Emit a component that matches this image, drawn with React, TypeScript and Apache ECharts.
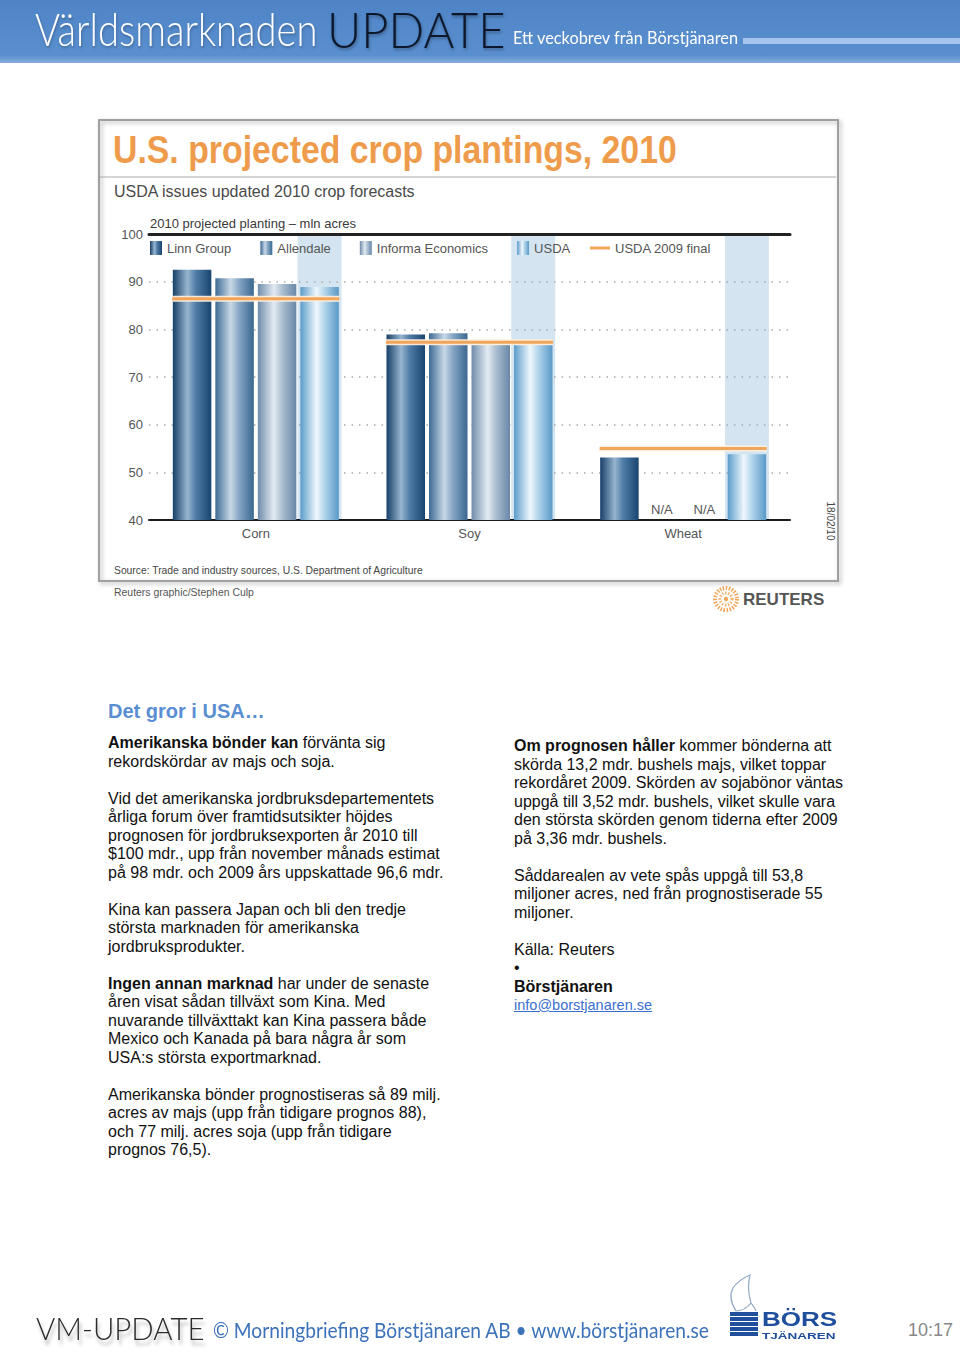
import React, { useEffect, useRef } from "react";
import * as echarts from "echarts";

const FONT = '"Liberation Sans", Arial, Helvetica, sans-serif';

// ---- chart data ----
const categories = ["Corn", "Soy", "Wheat"];
const linnGroup = [92.5, 78.9, 53.1];
const allendale = [90.7, 79.2, null];
const informaEconomics = [89.5, 76.8, null];
const usda = [88.9, 76.8, 53.8];
const usda2009Final = [86.4, 77.3, 55.0];
const Y_MIN = 40;
const Y_MAX = 100;
const Y_INTERVAL = 10;

// ---- styles ----
const BAR_W = 38.5;
const BAR_GAP_PX = 4;
const USDA_OFFSET = 1.5 * (BAR_W + BAR_GAP_PX);
const BAND_W = 44;

const grad = (stops: [number, string][]) =>
  new echarts.graphic.LinearGradient(0, 0, 1, 0, stops.map(([offset, color]) => ({ offset, color })));

const barSeries = (name: string, values: (number | null)[], stops: [number, string][]) => ({
  name,
  type: "bar",
  barWidth: BAR_W,
  barGap: (BAR_GAP_PX / BAR_W) * 100 + "%",
  itemStyle: { color: grad(stops) },
  z: 2,
  data: values.map((v) =>
    v === null
      ? {
          value: Y_MIN,
          label: {
            show: true,
            position: "top",
            distance: 4,
            formatter: "N/A",
            color: "#555",
            fontSize: 13,
            fontFamily: FONT,
          },
        }
      : v
  ),
});

function Chart() {
  const ref = useRef<HTMLDivElement>(null);
  useEffect(() => {
    if (!ref.current) return;
    const chart = echarts.init(ref.current, null, { renderer: "svg" });
    const option: any = {
      animation: false,
      grid: { left: 149, top: 124, width: 641, height: 286 },
      legend: [
        {
          data: ["Linn Group", "Allendale", "Informa Economics", "USDA"],
          left: 150,
          top: 131,
          padding: 0,
          itemWidth: 12,
          itemHeight: 14,
          itemGap: 29,
          icon: "rect",
          textStyle: { fontSize: 13, color: "#555", fontFamily: FONT },
        },
        {
          data: ["USDA 2009 final"],
          left: 590,
          top: 131.5,
          padding: 0,
          itemWidth: 20,
          itemHeight: 3,
          icon: "rect",
          textStyle: { fontSize: 13, color: "#555", fontFamily: FONT },
        },
      ],
      xAxis: [
        {
          type: "category",
          data: categories,
          position: "bottom",
          axisLine: { lineStyle: { color: "#1a1a1a", width: 2 } },
          axisTick: { show: false },
          axisLabel: { fontSize: 13, color: "#555", margin: 7, fontFamily: FONT },
          z: 1,
        },
        {
          type: "category",
          data: categories,
          position: "top",
          axisLine: { lineStyle: { color: "#222", width: 3 } },
          axisTick: { show: false },
          axisLabel: { show: false },
          z: 1,
        },
      ],
      yAxis: {
        type: "value",
        min: Y_MIN,
        max: Y_MAX,
        interval: Y_INTERVAL,
        axisLine: { show: false },
        axisTick: { show: false },
        axisLabel: { fontSize: 13, color: "#555", margin: 6, fontFamily: FONT },
        splitLine: { lineStyle: { type: [1.5, 6], color: "#a8a8a8", width: 1.5 } },
      },
      series: [
        {
          type: "custom",
          name: "band",
          silent: true,
          z: -1,
          data: categories.map((_, i) => [i, Y_MAX]),
          encode: { x: 0, y: 1 },
          renderItem: (params: any, api: any) => {
            const top = api.coord([api.value(0), api.value(1)]);
            const bottom = api.coord([api.value(0), Y_MIN]);
            return {
              type: "rect",
              shape: { x: top[0] + USDA_OFFSET - BAND_W / 2, y: top[1] + 1.5, width: BAND_W, height: bottom[1] - top[1] - 1.5 },
              style: { fill: "#d4e5f1" },
            };
          },
        },
        barSeries("Linn Group", linnGroup, [
          [0, "#173f68"],
          [0.38, "#97b5cf"],
          [0.6, "#4f7ca6"],
          [1, "#18446f"],
        ]),
        barSeries("Allendale", allendale, [
          [0, "#3d6b95"],
          [0.4, "#c8d8e6"],
          [0.62, "#86a6c4"],
          [1, "#3a6791"],
        ]),
        barSeries("Informa Economics", informaEconomics, [
          [0, "#6f8cab"],
          [0.42, "#e3ebf2"],
          [0.65, "#a8bccf"],
          [1, "#6987a7"],
        ]),
        barSeries("USDA", usda, [
          [0, "#5b9cca"],
          [0.42, "#eff7fc"],
          [0.62, "#b4d6ec"],
          [1, "#5899c7"],
        ]),
        {
          type: "custom",
          name: "USDA 2009 final",
          z: 5,
          itemStyle: { color: "#f0a55a" },
          data: usda2009Final.map((v, i) => [i, v]),
          encode: { x: 0, y: 1 },
          renderItem: (params: any, api: any) => {
            const p = api.coord([api.value(0), api.value(1)]);
            const half = 2 * (BAR_W + BAR_GAP_PX) - BAR_GAP_PX / 2 + 0.5;
            const shape = { x1: p[0] - half, y1: p[1], x2: p[0] + half, y2: p[1] };
            return {
              type: "group",
              children: [
                { type: "line", shape, style: { stroke: "rgba(255,238,220,0.95)", lineWidth: 6 } },
                { type: "line", shape, style: { stroke: "#f0a55a", lineWidth: 3 } },
              ],
            };
          },
        },
      ],
      graphic: [
        {
          type: "rect",
          z: -10,
          shape: { x: 99, y: 10, width: 739, height: 461 },
          style: {
            fill: "none",
            stroke: "#a0a0a0",
            lineWidth: 2,
            shadowBlur: 4,
            shadowColor: "rgba(0,0,0,0.3)",
            shadowOffsetX: 2,
            shadowOffsetY: 2,
          },
        },
        {
          type: "text",
          x: 113,
          y: 40,
          scaleX: 0.89,
          style: {
            text: "U.S. projected crop plantings, 2010",
            fontSize: 38,
            fontWeight: "bold",
            fill: "#ee9c4c",
            fontFamily: FONT,
            verticalAlign: "middle",
          },
        },
        {
          type: "line",
          shape: { x1: 100, y1: 67, x2: 836, y2: 67 },
          style: { stroke: "#a8a8a8", lineWidth: 1 },
        },
        {
          type: "text",
          x: 114,
          y: 81,
          style: {
            text: "USDA issues updated 2010 crop forecasts",
            fontSize: 16,
            fill: "#4a4a4a",
            fontFamily: FONT,
            verticalAlign: "middle",
          },
        },
        {
          type: "text",
          x: 150,
          y: 113,
          style: {
            text: "2010 projected planting \u2013 mln acres",
            fontSize: 13,
            fill: "#3a3a3a",
            fontFamily: FONT,
            verticalAlign: "middle",
          },
        },
        {
          type: "text",
          x: 114,
          y: 460,
          scaleX: 0.94,
          style: {
            text: "Source: Trade and industry sources, U.S. Department of Agriculture",
            fontSize: 11,
            fill: "#444",
            fontFamily: FONT,
            verticalAlign: "middle",
          },
        },
        {
          type: "text",
          x: 114,
          y: 482,
          scaleX: 0.95,
          style: {
            text: "Reuters graphic/Stephen Culp",
            fontSize: 11,
            fill: "#555",
            fontFamily: FONT,
            verticalAlign: "middle",
          },
        },
        {
          type: "text",
          x: 830,
          y: 411,
          rotation: -Math.PI / 2,
          style: {
            text: "18/02/10",
            fontSize: 10,
            fill: "#444",
            fontFamily: FONT,
            align: "center",
            verticalAlign: "middle",
          },
        },
        {
          type: "circle",
          shape: { cx: 726, cy: 489, r: 11 },
          style: { fill: "none", stroke: "#f1a65c", lineWidth: 4, lineDash: [1.5, 1.5] },
        },
        {
          type: "circle",
          shape: { cx: 726, cy: 489, r: 6 },
          style: { fill: "none", stroke: "#f3b273", lineWidth: 3, lineDash: [1.5, 1.5] },
        },
        {
          type: "circle",
          shape: { cx: 726, cy: 489, r: 2.2 },
          style: { fill: "#f1a65c" },
        },
        {
          type: "text",
          x: 743,
          y: 489,
          style: {
            text: "REUTERS",
            fontSize: 17,
            fontWeight: "bold",
            fill: "#555",
            fontFamily: FONT,
            verticalAlign: "middle",
          },
        },
      ],
    };
    chart.setOption(option);
    return () => chart.dispose();
  }, []);
  return <div ref={ref} style={{ position: "absolute", left: 0, top: 110, width: 960, height: 520 }} />;
}

const B = ({ children }: { children: React.ReactNode }) => <b>{children}</b>;

export default function App() {
  const pStyle: React.CSSProperties = { margin: "0 0 18.5px 0" };
  return (
    <div
      style={{
        position: "absolute",
        left: 0,
        top: 0,
        width: 960,
        height: 1357,
        overflow: "hidden",
        background: "#fff",
        fontFamily: FONT,
      }}
    >
      {/* header */}
      <div
        style={{
          position: "absolute",
          left: 0,
          top: 0,
          width: 960,
          height: 63,
          background: "linear-gradient(to bottom, #4e84c6 0%, #5a8fcf 88%, #86aedd 100%)",
        }}
      >
        <div
          style={{
            position: "absolute",
            left: 35,
            top: 6,
            fontFamily: "Lato, sans-serif",
            fontWeight: 300,
            fontSize: 46,
            lineHeight: "46px",
            color: "#fff",
            whiteSpace: "nowrap",
            transform: "scaleX(0.83)",
            transformOrigin: "left top",
            textShadow: "1px 2px 3px rgba(0,0,0,0.25)",
          }}
        >
          Världsmarknaden
        </div>
        <div
          style={{
            position: "absolute",
            left: 327,
            top: 5,
            fontFamily: "Lato, sans-serif",
            fontWeight: 300,
            fontSize: 49,
            lineHeight: "49px",
            color: "#0d182c",
            whiteSpace: "nowrap",
            transform: "scaleX(0.96)",
            transformOrigin: "left top",
            textShadow: "1px 2px 3px rgba(0,0,0,0.3)",
          }}
        >
          UPDATE
        </div>
        <div
          style={{
            position: "absolute",
            left: 513,
            top: 29,
            fontFamily: "Lato, sans-serif",
            fontSize: 17,
            lineHeight: "17px",
            color: "#fff",
            whiteSpace: "nowrap",
            transform: "scaleX(0.96)",
            transformOrigin: "left top",
          }}
        >
          Ett veckobrev från Börstjänaren
        </div>
        <div style={{ position: "absolute", left: 743, top: 38, width: 217, height: 6, background: "#a6c5ee" }} />
      </div>

      <Chart />

      {/* article */}
      <div
        style={{
          position: "absolute",
          left: 108,
          top: 699,
          fontSize: 20,
          lineHeight: "24px",
          fontWeight: "bold",
          color: "#5a8ed2",
          whiteSpace: "nowrap",
        }}
      >
        Det gror i USA…
      </div>
      <div
        style={{
          position: "absolute",
          left: 108,
          top: 734,
          width: 400,
          fontSize: 16,
          lineHeight: "18.5px",
          color: "#111",
          whiteSpace: "nowrap",
        }}
      >
        <p style={pStyle}>
          <B>Amerikanska bönder kan</B> förvänta sig
          <br />
          rekordskördar av majs och soja.
        </p>
        <p style={pStyle}>
          Vid det amerikanska jordbruksdepartementets
          <br />
          årliga forum över framtidsutsikter höjdes
          <br />
          prognosen för jordbruksexporten år 2010 till
          <br />
          $100 mdr., upp från november månads estimat
          <br />
          på 98 mdr. och 2009 års uppskattade 96,6 mdr.
        </p>
        <p style={pStyle}>
          Kina kan passera Japan och bli den tredje
          <br />
          största marknaden för amerikanska
          <br />
          jordbruksprodukter.
        </p>
        <p style={pStyle}>
          <B>Ingen annan marknad</B> har under de senaste
          <br />
          åren visat sådan tillväxt som Kina. Med
          <br />
          nuvarande tillväxttakt kan Kina passera både
          <br />
          Mexico och Kanada på bara några år som
          <br />
          USA:s största exportmarknad.
        </p>
        <p style={pStyle}>
          Amerikanska bönder prognostiseras så 89 milj.
          <br />
          acres av majs (upp från tidigare prognos 88),
          <br />
          och 77 milj. acres soja (upp från tidigare
          <br />
          prognos 76,5).
        </p>
      </div>
      <div
        style={{
          position: "absolute",
          left: 514,
          top: 737,
          width: 420,
          fontSize: 16,
          lineHeight: "18.5px",
          color: "#111",
          whiteSpace: "nowrap",
        }}
      >
        <p style={pStyle}>
          <B>Om prognosen håller</B> kommer bönderna att
          <br />
          skörda 13,2 mdr. bushels majs, vilket toppar
          <br />
          rekordåret 2009. Skörden av sojabönor väntas
          <br />
          uppgå till 3,52 mdr. bushels, vilket skulle vara
          <br />
          den största skörden genom tiderna efter 2009
          <br />
          på 3,36 mdr. bushels.
        </p>
        <p style={pStyle}>
          Såddarealen av vete spås uppgå till 53,8
          <br />
          miljoner acres, ned från prognostiserade 55
          <br />
          miljoner.
        </p>
        <p style={pStyle}>
          Källa: Reuters
          <br />
          •
          <br />
          <B>Börstjänaren</B>
          <br />
          <span style={{ fontSize: 14.5, color: "#3a6fd0", textDecoration: "underline" }}>info@borstjanaren.se</span>
        </p>
      </div>

      {/* footer */}
      <div
        style={{
          position: "absolute",
          left: 36,
          top: 1312,
          fontFamily: "Lato, sans-serif",
          fontWeight: 300,
          fontSize: 32,
          lineHeight: "32px",
          color: "#2c2c2c",
          whiteSpace: "nowrap",
          transform: "scaleX(0.92)",
          transformOrigin: "left top",
          textShadow: "2px 5px 4px rgba(0,0,0,0.3)",
        }}
      >
        VM-UPDATE
      </div>
      <div
        style={{
          position: "absolute",
          left: 213,
          top: 1319,
          fontFamily: "Lato, sans-serif",
          fontSize: 21,
          lineHeight: "21px",
          color: "#3b72b9",
          whiteSpace: "nowrap",
          transform: "scaleX(0.913)",
          transformOrigin: "left top",
        }}
      >
        © Morningbriefing Börstjänaren AB • www.börstjänaren.se
      </div>
      <svg style={{ position: "absolute", left: 726, top: 1273 }} width="34" height="40" viewBox="0 0 34 40">
        <path
          d="M10 38 C5 30 3 22 7 15 C11 9 17 5 24 2 C22 10 22 20 25 30 C21 35 15 38 10 38 Z M25 30 C27 33 29 35 30 38"
          fill="none"
          stroke="#93a9c6"
          strokeWidth="1.2"
        />
      </svg>
      {[0, 1, 2, 3, 4].map((i) => (
        <div
          key={i}
          style={{ position: "absolute", left: 730, top: 1312 + i * 5, width: 28, height: 3.5, background: "#1f4f9d" }}
        />
      ))}
      <div
        style={{
          position: "absolute",
          left: 762,
          top: 1307.7,
          fontSize: 21,
          lineHeight: "21px",
          fontWeight: "bold",
          color: "#1e4e9c",
          whiteSpace: "nowrap",
          transform: "scaleX(1.24)",
          transformOrigin: "left top",
        }}
      >
        BÖRS
      </div>
      <div
        style={{
          position: "absolute",
          left: 762,
          top: 1331,
          fontSize: 9.5,
          lineHeight: "9.5px",
          fontWeight: "bold",
          color: "#1e4e9c",
          whiteSpace: "nowrap",
          transform: "scaleX(1.42)",
          transformOrigin: "left top",
        }}
      >
        TJÄNAREN
      </div>
      <div
        style={{
          position: "absolute",
          left: 908,
          top: 1321,
          fontSize: 18,
          lineHeight: "18px",
          color: "#888",
          whiteSpace: "nowrap",
        }}
      >
        10:17
      </div>
    </div>
  );
}
